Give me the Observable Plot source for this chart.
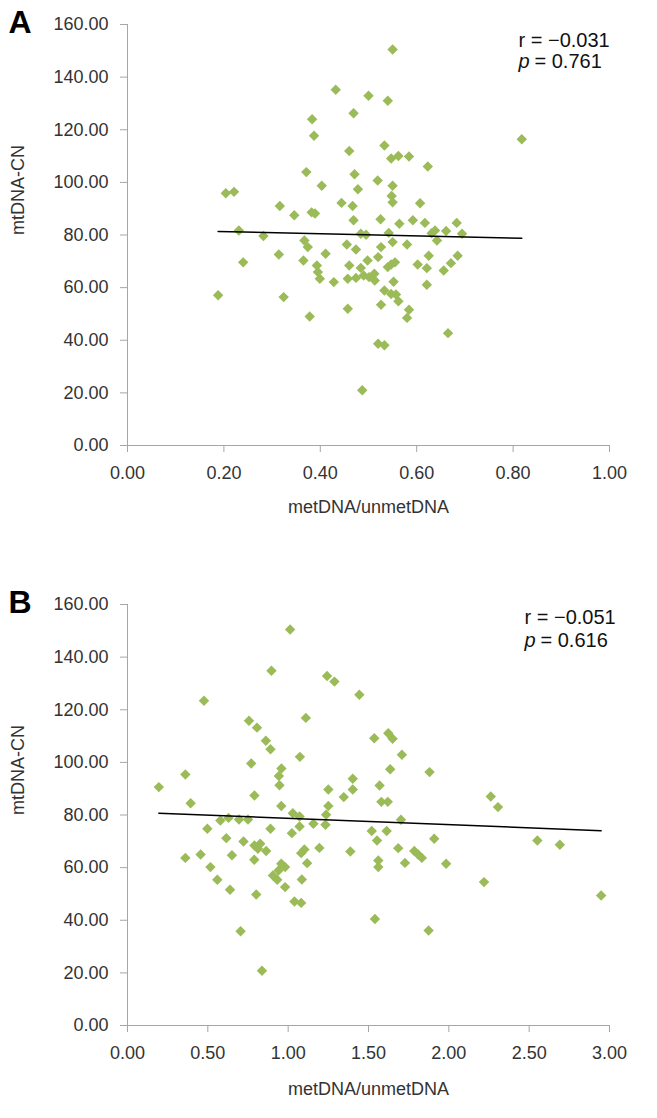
<!DOCTYPE html>
<html><head><meta charset="utf-8">
<script src="https://cdn.jsdelivr.net/npm/d3@7"></script>
<script src="https://cdn.jsdelivr.net/npm/@observablehq/plot@0.6"></script>
<style>
body{margin:0;background:#fff;}
#chart{width:657px;}
#chart svg{display:block;}
</style></head><body><div id="chart"></div>
<script>
// Panel A: metDNA/unmetDNA ratio vs mtDNA-CN
const ratioA = [0.432,0.469,0.383,0.387,0.460,0.371,0.471,0.403,0.478,0.204,0.221,0.316,0.444,0.467,0.346,0.382,0.389,0.469,0.231,0.282,
  0.367,0.550,0.500,0.540,0.818,0.533,0.547,0.562,0.584,0.623,0.519,0.550,0.548,0.550,0.607,0.525,0.564,0.592,0.617,0.683,
  0.638,0.631,0.661,0.694,0.484,0.495,0.542,0.374,0.314,0.240,0.365,0.411,0.393,0.395,0.399,0.428,0.455,0.474,0.460,0.457,
  0.474,0.188,0.324,0.457,0.378,0.487,0.642,0.550,0.580,0.526,0.625,0.685,0.520,0.498,0.484,0.540,0.547,0.555,0.602,0.621,
  0.671,0.656,0.490,0.501,0.512,0.513,0.552,0.621,0.533,0.547,0.557,0.562,0.526,0.584,0.580,0.665,0.520,0.533];
const cnA = [135.2,126.3,124.0,117.7,111.9,103.9,103.1,98.7,97.4,95.9,96.4,91.0,92.2,91.0,87.5,88.6,88.2,85.6,81.7,79.6,
  77.9,150.5,132.9,131.0,116.4,114.0,109.1,110.0,109.8,106.0,100.7,98.7,94.8,92.4,92.1,86.0,84.3,85.6,84.6,84.6,
  81.7,80.7,81.5,80.5,80.5,80.1,80.8,75.4,72.6,69.6,70.3,72.9,68.4,65.9,63.4,62.1,76.4,74.5,68.4,63.4,
  63.7,57.1,56.4,52.0,49.0,21.0,77.9,77.3,76.4,75.4,72.1,72.1,71.6,70.3,67.5,67.8,68.8,69.6,68.8,67.4,
  69.3,66.5,64.6,64.0,65.3,62.7,62.2,61.1,58.9,57.6,57.4,54.8,53.5,51.6,48.5,42.7,38.7,38.1];

// Panel B
const ratioB = [1.012,0.896,1.242,1.288,1.443,0.476,1.110,0.756,0.806,1.536,0.861,0.890,1.073,0.770,0.958,0.942,0.946,0.360,0.195,1.402,
  1.402,1.250,0.790,1.346,1.569,1.623,1.650,1.708,1.635,1.880,1.580,1.620,2.261,2.306,0.393,0.957,1.250,1.236,1.029,1.071,
  0.578,0.629,0.694,0.750,0.497,0.890,1.023,1.071,1.157,1.232,1.520,1.553,0.615,0.722,0.790,0.826,0.812,0.863,1.194,1.101,
  1.081,1.387,0.360,0.455,0.650,0.789,0.957,0.981,0.940,0.905,0.932,1.118,0.516,1.561,1.561,0.559,1.085,0.981,0.638,0.801,
  1.039,1.081,1.540,0.704,0.837,1.702,1.613,1.909,1.685,1.785,1.809,1.832,1.727,1.983,2.551,2.691,2.219,2.948,1.874];
const cnB = [150.5,134.8,132.8,130.7,125.7,123.4,116.9,115.8,113.2,109.2,108.2,105.0,102.1,99.6,97.7,94.8,91.3,95.4,90.6,93.8,
  89.7,89.7,87.4,86.8,91.2,111.1,109.0,102.9,97.4,96.3,85.0,85.0,87.0,83.0,84.5,83.4,83.4,80.1,80.7,79.4,
  77.9,78.9,78.3,78.3,74.8,74.8,73.1,75.6,76.7,76.3,73.9,70.3,71.2,69.9,68.4,69.1,67.2,66.3,67.5,66.9,
  65.5,66.1,63.7,65.0,64.7,63.0,61.5,60.2,58.9,57.0,55.4,61.7,60.2,62.7,60.2,55.4,55.5,52.6,51.6,49.8,
  47.1,46.6,40.5,35.8,20.8,78.2,73.9,71.0,67.4,66.3,65.0,63.7,61.8,61.5,70.3,68.7,54.5,49.4,36.1];

const yTicks = [0,20,40,60,80,100,120,140,160];
const xTicksA = [0,0.2,0.4,0.6,0.8,1.0];
const xTicksB = [0,0.5,1.0,1.5,2.0,2.5,3.0];
const panelLabels = ["A","B"];
const rTexts = ["r = \u22120.031","r = \u22120.051"];
const pValues = ["= 0.761","= 0.616"];
const xTitle = "metDNA/unmetDNA";
const yTitle = "mtDNA-CN";

const FONT = "'Liberation Sans', Arial, sans-serif";
const AXIS = "#a6a6a6";
const TXT = "#333";
const fmt = d3.format(".2f");

function panel(xs, ys, xTicks, idx, height, annDx, annDy, titleDy) {
  const idxs = d3.range(xs.length);
  return Plot.plot({
    width: 657, height,
    marginLeft: 127, marginRight: 48, marginTop: 24, marginBottom: height - 445,
    style: {fontFamily: FONT, fontSize: "18px", background: "white", overflow: "visible"},
    x: {domain: [xTicks[0], xTicks[xTicks.length - 1]]},
    y: {domain: [0, 160]},
    marks: [
      Plot.axisY({ticks: yTicks, tickFormat: fmt, tickSize: 7, tickPadding: 12, stroke: AXIS, fill: TXT, fontSize: 18, label: null}),
      Plot.axisX({ticks: xTicks, tickFormat: fmt, tickSize: 7, tickPadding: 14, stroke: AXIS, fill: TXT, fontSize: 18, label: null}),
      Plot.ruleX([xTicks[0]], {stroke: AXIS}),
      Plot.ruleY([0], {stroke: AXIS}),
      Plot.dot(idxs, {x: xs, y: ys, symbol: "diamond2", r: 4.7, fill: "#9bbb59", stroke: "none"}),
      Plot.linearRegressionY(idxs, {x: xs, y: ys, stroke: "black", strokeWidth: 1.5, ci: 0}),
      Plot.text([xTitle], {text: d => d, frameAnchor: "bottom", lineAnchor: "middle", dy: titleDy, fontSize: 18, fill: TXT}),
      Plot.text([yTitle], {text: d => d, frameAnchor: "left", lineAnchor: "middle", rotate: -90, dx: -109, fontSize: 18, fill: TXT}),
      Plot.text([panelLabels[idx]], {text: d => d, frameAnchor: "top-left", lineAnchor: "middle", textAnchor: "start", dx: -119, dy: -2, fontSize: 32, fontWeight: "bold", fill: "black"}),
      Plot.text([rTexts[idx]], {text: d => d, frameAnchor: "top-right", lineAnchor: "middle", textAnchor: "start", dx: annDx, dy: annDy[0], fontSize: 20, fill: "#111"}),
      Plot.text(["p"], {text: d => d, frameAnchor: "top-right", lineAnchor: "middle", textAnchor: "start", dx: annDx, dy: annDy[1], fontSize: 20, fontStyle: "italic", fill: "#111"}),
      Plot.text([pValues[idx]], {text: d => d, frameAnchor: "top-right", lineAnchor: "middle", textAnchor: "start", dx: annDx + 16, dy: annDy[1], fontSize: 20, fill: "#111"})
    ]
  });
}

const root = document.getElementById("chart");
root.append(panel(ratioA, cnA, xTicksA, 0, 580, -91, [16, 37], 62));
root.append(panel(ratioB, cnB, xTicksB, 1, 538, -85, [13, 36], 64));
</script></body></html>
